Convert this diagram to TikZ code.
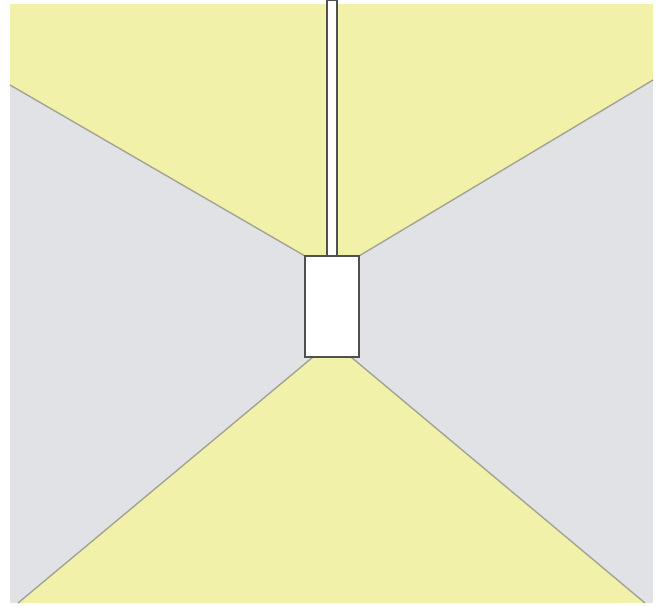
\documentclass[tikz,border=0pt]{standalone}
\usepackage{tikz}
\definecolor{lightyellow}{HTML}{F1F1A9}
\definecolor{lightgrey}{HTML}{E1E2E6}
\definecolor{edgegrey}{HTML}{A3A493}
\definecolor{boxgrey}{HTML}{505050}
\tikzset{
  lit/.style={fill=lightyellow, draw=none},
  shade/.style={fill=lightgrey, draw=none},
  edge/.style={draw=edgegrey, line width=0.8pt},
  lamp/.style={fill=white, draw=boxgrey, line width=0.9pt}
}

\begin{document}
\begin{tikzpicture}[x=0.02cm, y=-0.02cm]
  \useasboundingbox (0,0) rectangle (662,605);
  % background
  \fill[shade] (10,4) rectangle (653,603);
  \fill[lit] (10,4) -- (653,4) -- (653,80) -- (359,256) -- (305,256) -- (10,85) -- cycle;
  \fill[lit] (313,357) -- (351,357) -- (645,603) -- (18,603) -- cycle;
  % beam edges
  \draw[edge] (10,85) -- (305,256);
  \draw[edge] (653,80) -- (359,256);
  \draw[edge] (313,357) -- (18,603);
  \draw[edge] (351,357) -- (645,603);
  % pole and lamp
  \draw[lamp] (327,0) rectangle (337,256);
  \draw[lamp] (305,256) rectangle (359,357);
\end{tikzpicture}
\end{document}
